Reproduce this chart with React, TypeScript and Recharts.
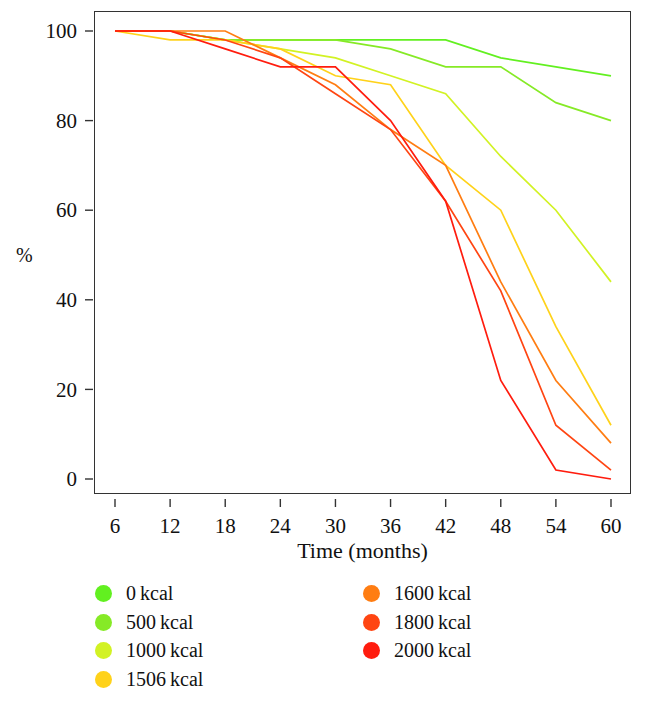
import { LineChart, Line, XAxis, YAxis } from 'recharts'

const months = [6, 12, 18, 24, 30, 36, 42, 48, 54, 60]
const yTicks = [0, 20, 40, 60, 80, 100]

const kcal0 = [100, 100, 98, 98, 98, 98, 98, 94, 92, 90]
const kcal500 = [100, 100, 98, 98, 98, 96, 92, 92, 84, 80]
const kcal1000 = [100, 100, 98, 96, 94, 90, 86, 72, 60, 44]
const kcal1506 = [100, 98, 98, 96, 90, 88, 70, 60, 34, 12]
const kcal1600 = [100, 100, 100, 94, 88, 78, 70, 44, 22, 8]
const kcal1800 = [100, 100, 98, 94, 86, 78, 62, 42, 12, 2]
const kcal2000 = [100, 100, 96, 92, 92, 80, 62, 22, 2, 0]

const seriesNames = ['0', '500', '1000', '1506', '1600', '1800', '2000']
const seriesValues = [kcal0, kcal500, kcal1000, kcal1506, kcal1600, kcal1800, kcal2000]
const seriesColors = ['#62f020', '#86ea26', '#d2f224', '#ffd21a', '#ff7d12', '#ff4512', '#ff1c0e']

const data = months.map((m, i) => {
  const row: Record<string, number> = { month: m }
  seriesNames.forEach((name, k) => {
    row['k' + name] = seriesValues[k][i]
  })
  return row
})

const FONT = '"Liberation Serif", "DejaVu Serif", serif'
const INK = '#111'
const AXIS = '#333'

// ticks in the reference sit a couple of px away from the frame
const XTick = ({ x, y, payload }: any) => (
  <g>
    <line x1={x} x2={x} y1={y - 19} y2={y - 11} stroke={AXIS} strokeWidth={1.4} />
    <text x={x} y={y} dy="0.71em" textAnchor="middle" fill={INK} fontSize={21} fontFamily={FONT}>
      {payload.value}
    </text>
  </g>
)

const YTick = ({ x, y, payload }: any) => (
  <g>
    <line x1={x + 8} x2={x + 16} y1={y} y2={y} stroke={AXIS} strokeWidth={1.4} />
    <text x={x} y={y} dy="0.34em" textAnchor="end" fill={INK} fontSize={21} fontFamily={FONT}>
      {payload.value}
    </text>
  </g>
)

export default function App() {
  return (
    <div style={{ width: 637, fontFamily: FONT }}>
      <div style={{ position: 'relative', width: 637, height: 555 }}>
        <LineChart
          width={637}
          height={555}
          data={data}
          margin={{ top: 4, right: 15, left: 8, bottom: 0 }}
        >
          <XAxis
            dataKey="month"
            type="number"
            domain={[6, 60]}
            ticks={months}
            padding={{ left: 20, right: 19 }}
            height={66}
            tickSize={10}
            tickMargin={11}
            tick={<XTick />}
            axisLine={false}
            tickLine={false}
            label={{ value: 'Time (months)', position: 'insideBottom', offset: 5, fill: INK, fontSize: 22, fontFamily: FONT }}
          />
          <YAxis
            type="number"
            domain={[0, 100]}
            ticks={yTicks}
            padding={{ top: 19, bottom: 18 }}
            width={79}
            tickSize={10}
            tickMargin={8}
            tick={<YTick />}
            axisLine={false}
            tickLine={false}
            label={{ value: '%', position: 'insideLeft', offset: 0, fill: INK, fontSize: 20, fontFamily: FONT }}
          />
          {seriesNames.map((name, k) => (
            <Line
              key={name}
              type="linear"
              dataKey={'k' + name}
              stroke={seriesColors[k]}
              strokeWidth={1.7}
              dot={false}
              isAnimationActive={false}
            />
          ))}
        </LineChart>
        <div
          style={{
            position: 'absolute',
            left: 86.25,
            top: 3.25,
            width: 536.5,
            height: 482.5,
            border: `1.5px solid ${AXIS}`,
            boxSizing: 'border-box',
            pointerEvents: 'none',
          }}
        />
      </div>
      <div
        style={{
          display: 'grid',
          gridTemplateRows: 'repeat(4, 28.7px)',
          gridTemplateColumns: '268px 200px',
          gridAutoFlow: 'column',
          marginTop: 16,
          marginLeft: 87,
        }}
      >
        {seriesNames.map((name, k) => (
          <div key={name} style={{ display: 'flex', alignItems: 'center', fontSize: 20, color: INK }}>
            <span
              style={{
                display: 'inline-block',
                width: 17,
                height: 17,
                borderRadius: '50%',
                background: seriesColors[k],
                marginRight: 14,
              }}
            />
            <span>{name}{'\u2009'}kcal</span>
          </div>
        ))}
      </div>
    </div>
  )
}
